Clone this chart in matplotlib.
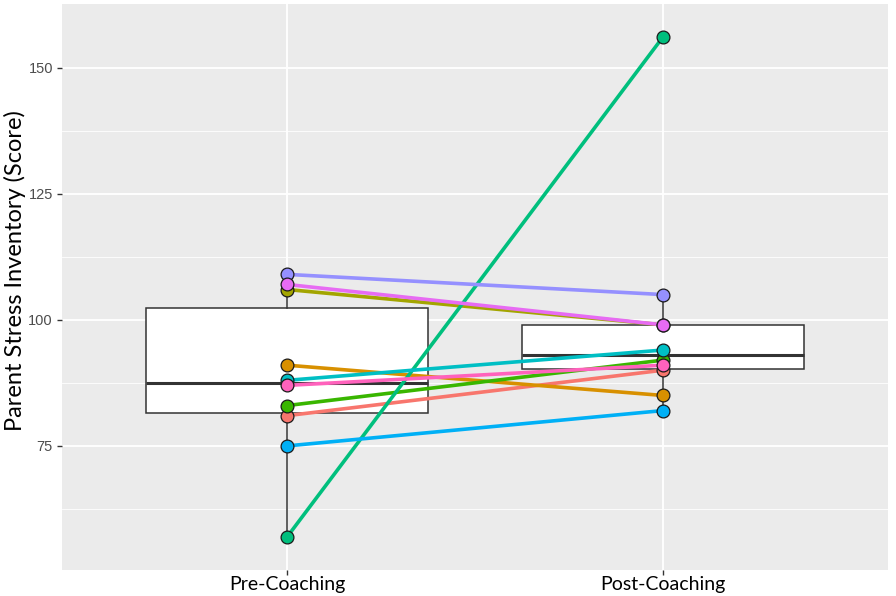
import numpy as np
import matplotlib
matplotlib.use("Agg")
import matplotlib.pyplot as plt
from matplotlib.ticker import FixedLocator

# one entry per participant (ggplot hue order)
pre_scores = [81, 91, 106, 83, 57, 88, 75, 109, 107, 87]
post_scores = [90, 85, 99, 92, 156, 94, 82, 105, 99, 91]
colours = ["#F8766D", "#D89000", "#A3A500", "#39B600", "#00BF7D",
           "#00BFC4", "#00B0F6", "#9590FF", "#E76BF3", "#FF62BC"]
conditions = ["Pre-Coaching", "Post-Coaching"]
y_ticks = [75, 100, 125, 150]
y_minor = [62.5, 87.5, 112.5, 137.5]

fig = plt.figure(figsize=(8.96, 5.96), dpi=100)
ax = fig.add_axes([62 / 896, 1 - 570 / 596, 826 / 896, 566 / 596])
ax.set_facecolor("#EBEBEB")
for s in ax.spines.values():
    s.set_visible(False)

pos = [1, 2]
ax.boxplot([pre_scores, post_scores], positions=pos, widths=0.75,
           whis=1.5, showfliers=False, showcaps=False, patch_artist=True,
           boxprops=dict(facecolor="white", edgecolor="#333333", linewidth=1.1),
           whiskerprops=dict(color="#333333", linewidth=1.1),
           medianprops=dict(color="#333333", linewidth=2.2),
           zorder=2)

for a, b, c in zip(pre_scores, post_scores, colours):
    ax.plot(pos, [a, b], color=c, linewidth=2.6, zorder=3,
            solid_capstyle="butt")
for a, b, c in zip(pre_scores, post_scores, colours):
    ax.scatter(pos, [a, b], s=85, color=c, edgecolor="#1a1a1a",
               linewidth=0.9, zorder=4)

ax.set_xlim(0.4, 2.6)
ax.set_ylim(50.4, 162.6)
ax.set_xticks(pos)
ax.set_xticklabels(conditions, fontsize=14, color="black", family="Lato")
ax.set_yticks(y_ticks)
ax.set_yticklabels([str(t) for t in y_ticks], fontsize=10.5, color="#4D4D4D",
                   family="Liberation Sans")
ax.yaxis.set_minor_locator(FixedLocator(y_minor))
ax.tick_params(axis="both", which="major", length=3.5, width=1.0,
               color="#333333", pad=3)
ax.tick_params(axis="x", which="major", pad=1)
ax.tick_params(axis="y", which="minor", length=0)
ax.grid(which="major", color="white", linewidth=1.3, zorder=0)
ax.grid(which="minor", axis="y", color="white", linewidth=0.6, zorder=0)
ax.set_axisbelow(True)

fig.text(15 / 896, 1 - 271 / 596, "Parent Stress Inventory (Score)",
         rotation=90, ha="center", va="center", fontsize=17,
         family="Lato", color="black")

fig.savefig("out.png", dpi=100)
